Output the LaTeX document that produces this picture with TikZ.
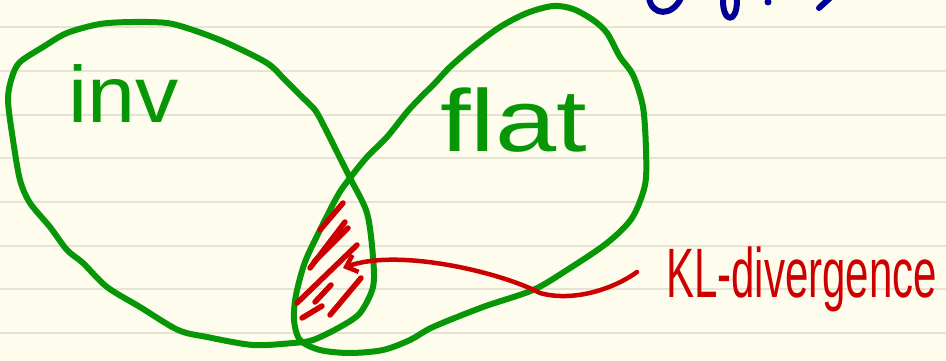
\documentclass[tikz,border=0pt]{standalone}
\usepackage{fontspec}
\usepackage{graphicx}
\setmainfont{Liberation Sans}
\usetikzlibrary{arrows.meta}
\definecolor{paper}{RGB}{254,252,237}
\definecolor{ruling}{RGB}{229,227,214}
\definecolor{pengreen}{RGB}{6,150,6}
\definecolor{penred}{RGB}{204,0,0}
\definecolor{penblue}{RGB}{0,0,150}

\begin{document}
\begin{tikzpicture}[x=1pt, y=-1pt, line cap=round, line join=round,
    pen/.style={line width=6pt},
    every node/.style={inner sep=0pt}]
  % paper
  \fill[paper] (0,0) rectangle (946,361);
  \useasboundingbox (0,0) rectangle (946,361);
  \foreach \ry in {27,71,115,158,202,246,289,333}
    \draw[ruling, line width=1.5pt] (0,\ry) -- (946,\ry);

  % cut-off writing at the top
  \draw[pen, penblue] (649,-2) .. controls (652,16) and (672,17) .. (681,-2);
  \draw[pen, penblue] (723,-2) .. controls (722,23) and (737,25) .. (737,0);
  \fill[penblue] (768,2) circle (3.5);
  \draw[pen, penblue] (819,8) -- (831,-3);

  % inv set
  \draw[pen, pengreen] plot[smooth cycle, tension=0.5] coordinates {
    (12,77) (20,62) (43,47) (67,33) (100,24) (133,22) (167,23) (193,30)
    (227,43) (267,63) (285,80) (300,95) (315,110) (325,128) (337,152)
    (350,178) (367,213) (373,257) (373,287) (360,313) (340,327) (313,340)
    (293,343) (253,345) (207,337) (178,330) (140,307) (107,287) (83,263)
    (67,250) (50,227) (30,203) (20,180) (13,140) (8,100)};

  % flat set
  \draw[pen, pengreen] plot[smooth cycle, tension=0.5] coordinates {
    (350,178) (367,157) (387,137) (407,112) (420,98) (435,83) (450,67)
    (473,47) (500,27) (527,13) (553,6) (573,9) (593,20) (607,33) (620,57)
    (633,75) (643,107) (646,150) (645,185) (632,218) (607,243) (567,270)
    (533,290) (483,307) (433,327) (410,340) (383,350) (350,353) (320,350)
    (300,340) (294,320) (296,295) (305,262) (320,230) (338,195)};

  % labels
  \node[font={\fontsize{80}{80}\selectfont}, text=pengreen, anchor=base west]
    (inv) at (68,123) {\scalebox{1.08}[1]{inv}};
  \node[font={\fontsize{88}{88}\selectfont}, text=pengreen, anchor=base west]
    (flat) at (440,151) {\scalebox{1.25}[1]{flat}};
  \node[font={\fontsize{70}{70}\selectfont}, text=penred, anchor=base west]
    (kl) at (666,297) {\scalebox{0.6}[1]{KL-divergence}};

  % shaded overlap
  \foreach \xa/\ya/\xb/\yb in {320/230/343/203, 310/268/345/222,
      314/262/348/228, 297/303/357/245, 315/302/331/285, 330/315/361/278,
      302/318/322/306}
    \draw[penred, line width=5.5pt] (\xa,\ya) -- (\xb,\yb);

  % pointer
  \coordinate (lens) at (343,268);
  \draw[penred, line width=4.5pt, -{Straight Barb[length=10pt, width=18pt]}]
    ([shift={(-29,-25)}]kl.base west)
    .. controls (612,290) and (572,302) .. (540,293)
    .. controls (500,272) and (398,248) .. (lens);
\end{tikzpicture}
\end{document}
